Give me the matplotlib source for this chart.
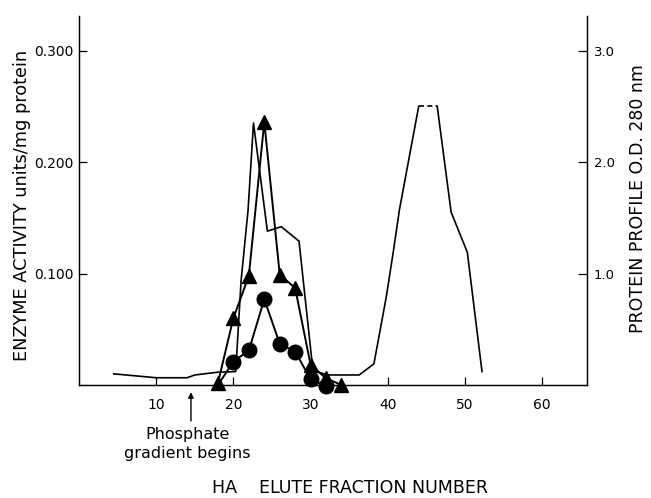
import matplotlib
matplotlib.use('Agg')
import matplotlib.pyplot as plt

plt.rcParams['font.family'] = ['DejaVu Sans']

# 酶活性（左轴）
tri_x = [18, 20, 22, 24, 26, 28, 30, 32, 34]
tri_y = [0.002, 0.060, 0.098, 0.236, 0.099, 0.087, 0.018, 0.006, 0.0]
circ_x = [18, 20, 22, 24, 26, 28, 30, 32]
circ_y = [0.0, 0.021, 0.031, 0.077, 0.037, 0.030, 0.005, -0.001]

# 蛋白质曲线（右轴），44-46.4 之间为超出量程的虚线
prot_x = [4.5, 10, 14, 15, 18, 20.3, 21, 21.9, 22.6, 24.4, 26.2, 28.5, 30.3,
          32.2, 36.3, 38.2, 39.8, 40.7, 41.5, 44.0, 46.4, 48.2, 50.3, 52.2]
prot_y = [0.10, 0.065, 0.065, 0.09, 0.115, 0.12, 0.94, 1.57, 2.35, 1.38, 1.42,
          1.29, 0.13, 0.09, 0.09, 0.19, 0.79, 1.19, 1.57, 2.50, 2.50, 1.55,
          1.19, 0.12]
top_i = prot_x.index(44.0)

x_ticks = [10, 20, 30, 40, 50, 60]
left_ticks = [0.1, 0.2, 0.3]
left_labels = ['0.100', '0.200', '0.300']
right_ticks = [1.0, 2.0, 3.0]
right_labels = ['1.0', '2.0', '3.0']

fig = plt.figure(figsize=(6.51, 4.98), dpi=100)
ax = fig.add_axes([79 / 651, 113 / 498, 508 / 651, 369 / 498])
ax2 = ax.twinx()

ax.plot(tri_x, tri_y, color='black', lw=1.4, marker='^', markersize=10,
        clip_on=False, zorder=3)
ax.plot(circ_x, circ_y, color='black', lw=1.4, marker='o', markersize=10.5,
        markevery=list(range(1, len(circ_x))), clip_on=False, zorder=3)

ax2.plot(prot_x[:top_i + 1], prot_y[:top_i + 1], color='black', lw=1.2)
ax2.plot(prot_x[top_i:top_i + 2], prot_y[top_i:top_i + 2], color='black',
         lw=1.2, linestyle=(0, (3, 2)))
ax2.plot(prot_x[top_i + 1:], prot_y[top_i + 1:], color='black', lw=1.2)

ax.set_xlim(0, 65.8)
ax.set_ylim(0, 0.331)
ax2.set_ylim(0, 3.31)

ax.set_xticks(x_ticks)
ax.set_yticks(left_ticks)
ax.set_yticklabels(left_labels)
ax2.set_yticks(right_ticks)
ax2.set_yticklabels(right_labels)

ax.tick_params(axis='x', direction='in', length=6, width=0.9, pad=9, labelsize=10)
ax.tick_params(axis='y', direction='in', length=6, width=0.9, pad=4, labelsize=10)
ax2.tick_params(axis='y', direction='in', length=6.5, width=0.9, pad=5, labelsize=9.5)

for a in (ax, ax2):
    a.spines['top'].set_visible(False)
    for s in ('left', 'bottom', 'right'):
        a.spines[s].set_linewidth(0.9)

ax.annotate('', xy=(14.5, -0.012), xytext=(14.5, -0.105),
            xycoords=ax.get_xaxis_transform(), textcoords=ax.get_xaxis_transform(),
            arrowprops=dict(arrowstyle='-|>', lw=1.0, color='black', mutation_scale=8),
            annotation_clip=False)
ax.text(14.0, -0.115, 'Phosphate\ngradient begins', transform=ax.get_xaxis_transform(),
        ha='center', va='top', fontsize=11.5, linespacing=1.3)

fig.text(350 / 651, 1 - 488 / 498, 'HA    ELUTE FRACTION NUMBER', ha='center',
         va='center', fontsize=12.5)
fig.text(22 / 651, 1 - 205 / 498, 'ENZYME ACTIVITY units/mg protein', rotation=90,
         ha='center', va='center', fontsize=12.8)
fig.text(638 / 651, 1 - 199 / 498, 'PROTEIN PROFILE O.D. 280 nm', rotation=90,
         ha='center', va='center', fontsize=12.5)

fig.savefig('out.png', dpi=100)
